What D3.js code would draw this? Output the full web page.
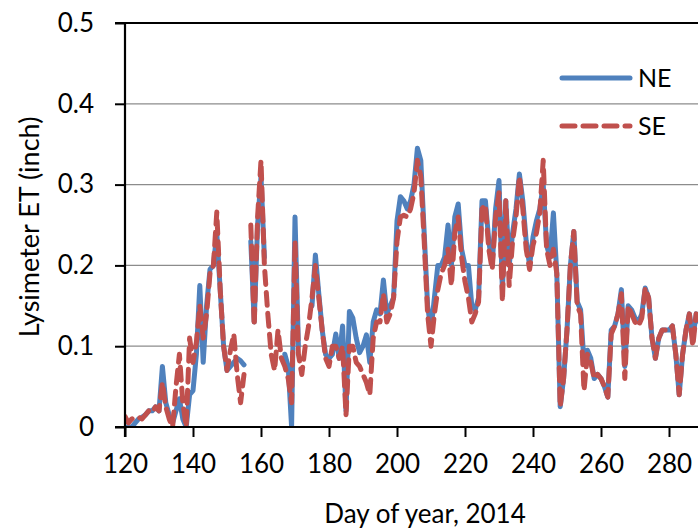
<!DOCTYPE html>
<html>
<head>
<meta charset="utf-8">
<script src="https://cdn.jsdelivr.net/npm/d3@7"></script>
<style>
  body { margin: 0; background: #fff; }
  svg { display: block; font-family: Lato, "Open Sans", sans-serif; }
</style>
</head>
<body>
<div id="chart"></div>
<script>
// day of year, 2014 (one reading per day, null = missing)
const days = d3.range(120, 290);

const neValues = [
  0, 0, 0, 0.005, 0.01, 0.012, 0.015, 0.02, 0.02, 0.025,
  0.02, 0.075, 0.03, 0.015, 0.005, 0.02, 0.035, 0.01, 0, 0.04,
  0.045, 0.09, 0.175, 0.08, 0.15, 0.195, 0.2, 0.24, 0.17, 0.1,
  0.07, 0.075, 0.08, 0.085, 0.082, 0.077, null, 0.23, 0.13, 0.25,
  0.31, 0.21, null, null, null, null, null, 0.09, 0.075, 0,
  0.26, 0.1, null, null, null, 0.15, 0.213, 0.165, 0.12, 0.09,
  0.085, 0.09, 0.115, 0.085, 0.125, 0.02, 0.143, 0.135, 0.11, 0.092,
  0.1, 0.114, 0.08, 0.13, 0.145, 0.14, 0.182, 0.14, 0.15, 0.16,
  0.255, 0.285, 0.28, 0.27, 0.28, 0.3, 0.345, 0.33, 0.24, 0.15,
  0.12, 0.16, 0.2, 0.2, 0.21, 0.25, 0.2, 0.26, 0.276, 0.22,
  0.2, 0.2, 0.15, 0.145, 0.16, 0.28, 0.28, 0.23, 0.2, 0.27,
  0.305, 0.17, 0.28, 0.2, 0.24, 0.27, 0.313, 0.28, 0.23, 0.2,
  0.235, 0.255, 0.27, 0.3, 0.225, 0.21, 0.265, 0.19, 0.025, 0.06,
  0.12, 0.2, 0.242, 0.155, 0.145, 0.08, 0.095, 0.085, 0.06, 0.065,
  0.06, 0.05, 0.037, 0.12, 0.125, 0.14, 0.17, 0.075, 0.15, 0.145,
  0.135, 0.13, 0.14, 0.172, 0.16, 0.11, 0.085, 0.11, 0.12, 0.12,
  0.12, 0.125, 0.09, 0.04, 0.09, 0.12, 0.14, 0.11, 0.14, 0.13
];

const seValues = [
  0.013, 0.005, 0.01, 0.012, 0.012, 0.01, 0.015, 0.02, 0.018, 0.025,
  0.02, 0.055, 0.025, 0.01, 0, 0.05, 0.09, 0.03, 0, 0.11,
  0.08, 0.105, 0.15, 0.11, 0.14, 0.19, 0.2, 0.266, 0.17, 0.1,
  0.07, 0.095, 0.115, 0.065, 0.03, 0.065, null, 0.25, 0.125, 0.26,
  0.33, 0.2, 0.14, 0.09, 0.07, 0.12, 0.085, 0.075, 0.06, 0.03,
  0.23, 0.09, 0.065, 0.1, 0.125, 0.16, 0.2, 0.16, 0.12, 0.085,
  0.075, 0.1, 0.1, 0.085, 0.1, 0.015, 0.1, 0.1, 0.08, 0.075,
  0.065, 0.055, 0.04, 0.11, 0.13, 0.13, 0.165, 0.13, 0.14, 0.16,
  0.23, 0.26, 0.262, 0.26, 0.27, 0.29, 0.33, 0.31, 0.23, 0.14,
  0.1, 0.14, 0.17, 0.19, 0.2, 0.22, 0.175, 0.24, 0.26, 0.21,
  0.18, 0.16, 0.13, 0.14, 0.155, 0.27, 0.275, 0.22, 0.195, 0.26,
  0.29, 0.155, 0.28, 0.175, 0.23, 0.26, 0.31, 0.27, 0.22, 0.195,
  0.225, 0.24, 0.265, 0.33, 0.22, 0.2, 0.22, 0.19, 0.025, 0.06,
  0.12, 0.2, 0.242, 0.15, 0.14, 0.045, 0.09, 0.08, 0.06, 0.065,
  0.06, 0.05, 0.037, 0.115, 0.125, 0.14, 0.165, 0.06, 0.15, 0.14,
  0.13, 0.125, 0.135, 0.172, 0.16, 0.11, 0.085, 0.11, 0.12, 0.12,
  0.12, 0.125, 0.09, 0.04, 0.09, 0.12, 0.14, 0.1, 0.14, 0.13
];

const xTicks = [120, 140, 160, 180, 200, 220, 240, 260, 280];
const yTicks = [0, 0.1, 0.2, 0.3, 0.4, 0.5];
const seriesNames = ["NE", "SE"];

const width = 698;
const height = 531;
const plotLeft = 125, plotTop = 23, plotBottom = 427;

const svg = d3.select("#chart")
  .append("svg")
  .attr("width", width)
  .attr("height", height);

const x = d3.scaleLinear().domain([120, 280]).range([plotLeft, 669]);
const y = d3.scaleLinear().domain([0, 0.5]).range([plotBottom, plotTop]);

// gridlines
svg.append("g")
  .selectAll("line")
  .data(yTicks.filter(t => t > 0 && t < 0.5))
  .enter()
  .append("line")
  .attr("x1", plotLeft).attr("x2", width)
  .attr("y1", d => y(d)).attr("y2", d => y(d))
  .attr("stroke", "#8c8c8c")
  .attr("stroke-width", 1.3);

svg.append("clipPath").attr("id", "plot")
  .append("rect")
  .attr("x", plotLeft).attr("y", plotTop - 10)
  .attr("width", width - plotLeft).attr("height", plotBottom - plotTop + 10);

const line = d3.line()
  .defined(d => d.v !== null)
  .x(d => x(d.day))
  .y(d => y(d.v));

const ne = days.map((d, i) => ({ day: d, v: neValues[i] }));
const se = days.map((d, i) => ({ day: d, v: seValues[i] }));

const plot = svg.append("g").attr("clip-path", "url(#plot)");

plot.append("path")
  .datum(ne)
  .attr("d", line)
  .attr("fill", "none")
  .attr("stroke", "#4f81bd")
  .attr("stroke-width", 5)
  .attr("stroke-linejoin", "round")
  .attr("stroke-linecap", "round");

plot.append("path")
  .datum(se)
  .attr("d", line)
  .attr("fill", "none")
  .attr("stroke", "#c0504d")
  .attr("stroke-width", 5)
  .attr("stroke-dasharray", "13,8")
  .attr("stroke-linejoin", "round")
  .attr("stroke-linecap", "round");

// axes
const xAxis = svg.append("g")
  .attr("transform", `translate(0,${plotBottom})`)
  .call(d3.axisBottom(x).tickValues(xTicks).tickSize(10).tickPadding(18));
xAxis.select(".domain").remove();
xAxis.selectAll(".tick line").attr("stroke", "#000").attr("stroke-width", 2);
xAxis.selectAll("text")
  .attr("font-size", 26)
  .attr("font-family", "Lato")
  .attr("fill", "#000");

const yAxis = svg.append("g")
  .attr("transform", `translate(${plotLeft},0)`)
  .call(d3.axisLeft(y).tickValues(yTicks).tickSize(10).tickPadding(21)
    .tickFormat(d => d === 0 ? "0" : d3.format(".1f")(d)));
yAxis.select(".domain").remove();
yAxis.selectAll(".tick line").attr("stroke", "#000").attr("stroke-width", 2);
yAxis.selectAll("text")
  .attr("font-size", 26)
  .attr("font-family", "Lato")
  .attr("fill", "#000");

// frame lines
svg.append("line")
  .attr("x1", plotLeft - 10).attr("x2", width)
  .attr("y1", plotBottom).attr("y2", plotBottom)
  .attr("stroke", "#000").attr("stroke-width", 2.2);
svg.append("line")
  .attr("x1", plotLeft).attr("x2", plotLeft)
  .attr("y1", plotTop).attr("y2", plotBottom + 10)
  .attr("stroke", "#000").attr("stroke-width", 2.2);
svg.append("line")
  .attr("x1", plotLeft - 10).attr("x2", width)
  .attr("y1", plotTop).attr("y2", plotTop)
  .attr("stroke", "#000").attr("stroke-width", 2.2);

// axis titles
svg.append("text")
  .attr("x", 425).attr("y", 523)
  .attr("text-anchor", "middle")
  .attr("font-size", 26)
  .text("Day of year, 2014");

svg.append("text")
  .attr("transform", "translate(39,227) rotate(-90)")
  .attr("text-anchor", "middle")
  .attr("font-size", 27)
  .text("Lysimeter ET (inch)");

// legend
const legend = svg.append("g");
const legendY = [78, 126];
const legendColors = ["#4f81bd", "#c0504d"];
seriesNames.forEach((name, i) => {
  legend.append("line")
    .attr("x1", 562).attr("x2", 630)
    .attr("y1", legendY[i]).attr("y2", legendY[i])
    .attr("stroke", legendColors[i])
    .attr("stroke-width", 5)
    .attr("stroke-linecap", "round")
    .attr("stroke-dasharray", i === 1 ? "13,8" : null);
  legend.append("text")
    .attr("x", 638).attr("y", legendY[i] + 9)
    .attr("font-size", 25)
    .text(name);
});
</script>
</body>
</html>
